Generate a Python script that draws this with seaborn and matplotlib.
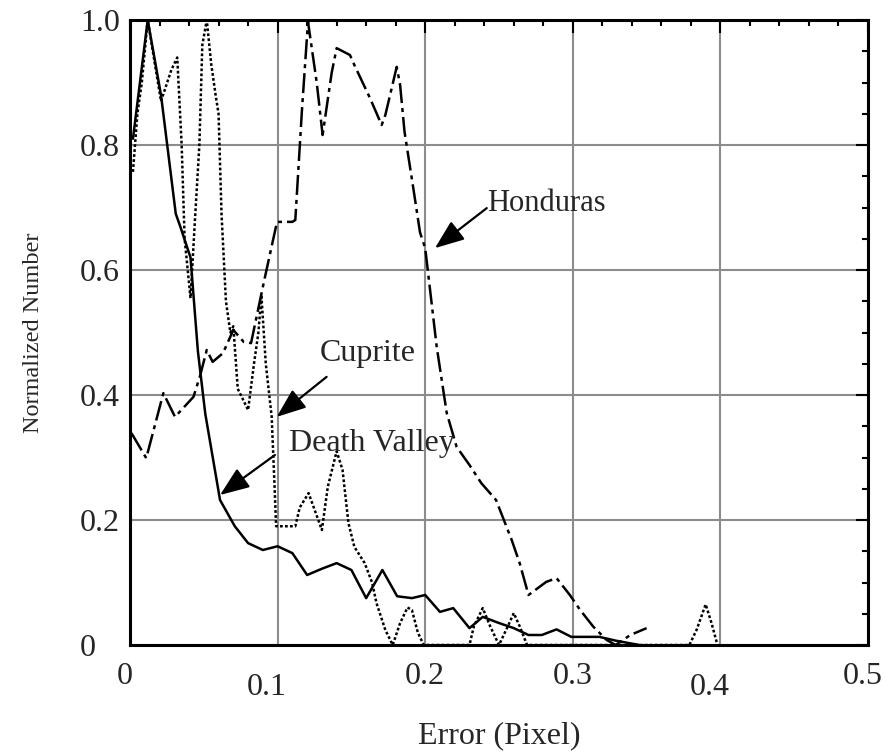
import numpy as np
import pandas as pd
import matplotlib
matplotlib.use("Agg")
import matplotlib.pyplot as plt
import matplotlib.transforms as mtransforms
from matplotlib.ticker import MultipleLocator
import seaborn as sns

# Death Valley (solid line)
dv_err = [0.002, 0.012, 0.021, 0.031, 0.034, 0.041, 0.046, 0.051, 0.061, 0.071, 0.080,
          0.090, 0.100, 0.110, 0.120, 0.130, 0.140, 0.150, 0.160, 0.171, 0.181, 0.191,
          0.200, 0.210, 0.219, 0.230, 0.239, 0.249, 0.260, 0.270, 0.279, 0.289, 0.299,
          0.309, 0.318, 0.329, 0.345]
dv_norm = [0.81, 1.0, 0.88, 0.69, 0.67, 0.62, 0.47, 0.37, 0.232, 0.19, 0.163,
           0.152, 0.158, 0.147, 0.112, 0.122, 0.131, 0.12, 0.075, 0.12, 0.078, 0.075,
           0.08, 0.053, 0.059, 0.027, 0.045, 0.036, 0.027, 0.016, 0.016, 0.025, 0.013,
           0.013, 0.013, 0.007, 0.0]

# Cuprite (dotted line)
cu_err = [0.002, 0.005, 0.008, 0.012, 0.021, 0.028, 0.032, 0.035, 0.037, 0.041, 0.044,
          0.047, 0.049, 0.052, 0.055, 0.058, 0.060, 0.062, 0.065, 0.068, 0.070, 0.073,
          0.080, 0.084, 0.087, 0.089, 0.092, 0.096, 0.098, 0.099, 0.112, 0.115, 0.121,
          0.130, 0.134, 0.140, 0.144, 0.148, 0.152, 0.159, 0.164, 0.167, 0.173, 0.178,
          0.183, 0.188, 0.191, 0.195, 0.199, 0.230, 0.233, 0.239, 0.244, 0.250, 0.256,
          0.260, 0.264, 0.269, 0.379, 0.384, 0.390, 0.394, 0.398]
cu_norm = [0.757, 0.85, 0.90, 1.0, 0.87, 0.92, 0.94, 0.80, 0.65, 0.555, 0.68,
           0.80, 0.96, 1.0, 0.93, 0.88, 0.85, 0.69, 0.55, 0.50, 0.51, 0.41,
           0.376, 0.45, 0.50, 0.56, 0.45, 0.365, 0.25, 0.19, 0.19, 0.22, 0.243,
           0.184, 0.253, 0.31, 0.28, 0.195, 0.157, 0.131, 0.10, 0.067, 0.024, 0.0,
           0.035, 0.06, 0.056, 0.02, 0.0, 0.0, 0.03, 0.059, 0.03, 0.0, 0.03,
           0.051, 0.03, 0.0, 0.0, 0.025, 0.065, 0.035, 0.0]

# Honduras (dash-dot line)
ho_err = [0.001, 0.011, 0.0226, 0.0305, 0.043, 0.0474, 0.052, 0.056, 0.063, 0.070, 0.077,
          0.082, 0.091, 0.0996, 0.110, 0.112, 0.1165, 0.1206, 0.1265, 0.1305, 0.1366,
          0.140, 0.149, 0.152, 0.1626, 0.1705, 0.173, 0.1807, 0.183, 0.186, 0.192,
          0.1965, 0.200, 0.2078, 0.2146, 0.2213, 0.230, 0.238, 0.248, 0.2586, 0.264,
          0.270, 0.282, 0.289, 0.298, 0.305, 0.314, 0.323, 0.329, 0.339, 0.350]
ho_norm = [0.339, 0.299, 0.403, 0.365, 0.397, 0.43, 0.472, 0.453, 0.467, 0.504, 0.485,
           0.483, 0.584, 0.677, 0.677, 0.68, 0.856, 0.997, 0.90, 0.816, 0.915,
           0.955, 0.944, 0.928, 0.875, 0.832, 0.848, 0.925, 0.896, 0.821, 0.73,
           0.66, 0.635, 0.477, 0.371, 0.317, 0.288, 0.259, 0.232, 0.168, 0.131,
           0.08, 0.101, 0.107, 0.08, 0.056, 0.029, 0.008, 0.0, 0.016, 0.027]

x_ticks = [0, 0.1, 0.2, 0.3, 0.4, 0.5]
x_tick_labels = ["0", "0.1", "0.2", "0.3", "0.4", "0.5"]
y_ticks = [0, 0.2, 0.4, 0.6, 0.8, 1.0]
y_tick_labels = ["0", "0.2", "0.4", "0.6", "0.8", "1.0"]

sns.set_theme(style="white")
plt.rcParams["font.family"] = ["Liberation Serif", "DejaVu Serif"]

fig = plt.figure(figsize=(8.91, 7.56), dpi=100)
ax = fig.add_axes([130 / 891, 1 - 645 / 756, 738 / 891, 625 / 756])

dv = pd.DataFrame({"err": dv_err, "norm": dv_norm})
cu = pd.DataFrame({"err": cu_err, "norm": cu_norm})
ho = pd.DataFrame({"err": ho_err, "norm": ho_norm})

sns.lineplot(data=dv, x="err", y="norm", sort=False, estimator=None, ax=ax,
             color="black", lw=1.8, linestyle="-", zorder=3)
sns.lineplot(data=cu, x="err", y="norm", sort=False, estimator=None, ax=ax,
             color="black", lw=1.8, linestyle=(0, (1.1, 0.9)), zorder=3)
sns.lineplot(data=ho, x="err", y="norm", sort=False, estimator=None, ax=ax,
             color="black", lw=1.8, linestyle=(0, (8, 2, 1.6, 2)), zorder=3)

ax.set_xlim(0, 0.5)
ax.set_ylim(0, 1.0)
ax.set_xticks(x_ticks)
ax.set_xticklabels(x_tick_labels, fontsize=23)
ax.set_yticks(y_ticks)
ax.set_yticklabels(y_tick_labels, fontsize=23)
ax.xaxis.set_minor_locator(MultipleLocator(0.02))
ax.yaxis.set_minor_locator(MultipleLocator(0.05))
ax.tick_params(which="both", direction="in", top=True, right=True, color="black",
               width=1.5)
ax.tick_params(which="major", length=9)
ax.tick_params(which="minor", length=4.5)
ax.tick_params(axis="y", pad=36)
ax.tick_params(axis="x", pad=12)
for lab in ax.get_yticklabels():
    lab.set_ha("left")

# staggered x tick labels like the original
x_shift = [-4, -8, 0, 0, -8, -4]
y_shift = [0, -8, 0, 0, -8, 0]
for lab, dx, dy in zip(ax.get_xticklabels(), x_shift, y_shift):
    lab.set_transform(lab.get_transform() +
                      mtransforms.ScaledTranslation(dx / 72, dy / 72, fig.dpi_scale_trans))

ax.grid(True, which="major", color="#8c8c8c", lw=1.5)
ax.set_axisbelow(True)
for sp in ax.spines.values():
    sp.set_color("black")
    sp.set_linewidth(2.2)

ax.set_xlabel("Error (Pixel)", fontsize=23, labelpad=14)
ax.set_ylabel("Normalized Number", fontsize=17.5, labelpad=26)

arrow = dict(arrowstyle="-|>,head_length=0.9,head_width=0.35", color="black",
             lw=1.6, mutation_scale=20, shrinkA=0, shrinkB=0)
ax.text(0.242, 0.707, "Honduras", fontsize=22, ha="left", va="center")
ax.annotate("", xy=(0.2066, 0.635), xytext=(0.2417, 0.699), arrowprops=arrow)
ax.text(0.1287, 0.467, "Cuprite", fontsize=23, ha="left", va="center")
ax.annotate("", xy=(0.0994, 0.365), xytext=(0.1332, 0.429), arrowprops=arrow)
ax.text(0.108, 0.323, "Death Valley", fontsize=23, ha="left", va="center")
ax.annotate("", xy=(0.061, 0.24), xytext=(0.0982, 0.304), arrowprops=arrow)

fig.savefig("out.png", dpi=100)
